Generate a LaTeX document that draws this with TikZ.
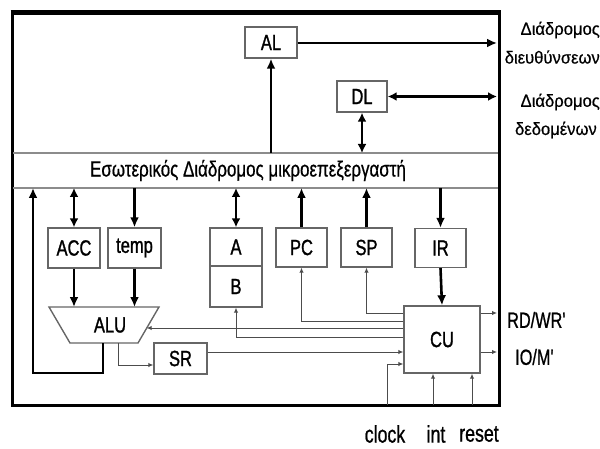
\documentclass[tikz,border=0pt]{standalone}
\usepackage{fontspec}
\setmainfont{Liberation Sans}
\newfontfamily\narrowfont{Liberation Sans}[FakeStretch=0.75,FakeBold=1.2]
\newfontfamily\busfont{Liberation Sans}[FakeStretch=0.77,FakeBold=0.6]
\newfontfamily\labelfont{Liberation Sans}[FakeStretch=0.74,FakeBold=0.8]
\newfontfamily\greekfont{Liberation Sans}[FakeStretch=0.95,FakeBold=0.5]
\usetikzlibrary{arrows.meta,calc}
\begin{document}
\begin{tikzpicture}[x=1pt,y=-1pt,
  reg/.style={draw=black!60,line width=1.4pt,minimum width=51pt,minimum height=39pt,inner sep=0pt,font=\narrowfont\fontsize{22}{22}\selectfont},
  thickln/.style={line width=2.6pt},
  bigarr/.style={thickln,-{Latex[length=10pt,width=9pt]}},
  dblarr/.style={thickln,{Latex[length=9pt,width=9pt]}-{Latex[length=9pt,width=9pt]}},
  thinarr/.style={draw=black!70,line width=1pt,-{Latex[length=5pt,width=4.5pt]}},
  lbl/.style={font=\greekfont\fontsize{17.5}{17.5}\selectfont,inner sep=0pt},
  sig/.style={font=\labelfont\fontsize{22}{22}\selectfont,inner sep=0pt}]
\useasboundingbox (0,0) rectangle (600,449);
% frame
\draw[line width=3pt] (12,405) -- (12,12) -- (499,12) -- (499,405) -- cycle;
\draw[line width=5pt] (10.5,13) -- (500.5,13);
% bus band
\draw[draw=black!45,line width=1.5pt] (13,153) -- (498,153);
\draw[draw=black!45,line width=1.5pt] (13,188) -- (498,188);
\node[font=\busfont\fontsize{22}{22}\selectfont,inner sep=0pt] (bus) at (248,170.5) {Εσωτερικός Διάδρομος μικροεπεξεργαστή};
% registers
\node[reg,minimum width=52pt,minimum height=31pt] (AL) at (271,42.5) {AL};
\node[reg,minimum width=50pt,minimum height=31pt] (DL) at (362,96.5) {DL};
\node[reg,minimum width=52pt,minimum height=40pt] (ACC) at (74,248) {ACC};
\node[reg,minimum width=53pt,minimum height=40pt] (temp) at (134.5,248) {temp};
\node[reg,minimum width=52pt,minimum height=38pt] (A) at (236,247) {A};
\node[reg,minimum width=52pt,minimum height=41pt] (B) at (236,286.5) {B};
\node[reg] (PC) at (301.5,247.5) {PC};
\node[reg] (SP) at (366.5,247.5) {SP};
\node[reg] (IR) at (440.5,248) {IR};
\node[reg,minimum width=76pt,minimum height=67pt] (CU) at (442,339.5) {CU};
\node[reg,minimum width=53pt,minimum height=31pt] (SR) at (180.5,358.5) {SR};
% ALU
\coordinate (aluTL) at (49,307);
\coordinate (aluTR) at (159,307);
\coordinate (aluBR) at (138,343);
\coordinate (aluBL) at (70,343);
\draw[draw=black!60,line width=1.4pt] (aluTL) -- (aluTR) -- (aluBR) -- (aluBL) -- cycle;
\node[font=\narrowfont\fontsize{22}{22}\selectfont,inner sep=0pt] (ALU) at (110,325) {ALU};
% bus coordinates
\coordinate (bAL) at (271,153);
\coordinate (bDL) at (362,153);
\coordinate (bFB) at (33,188);
\coordinate (bACC) at (74,188);
\coordinate (btemp) at (134.5,188);
\coordinate (bA) at (236,188);
\coordinate (bPC) at (301.5,188);
\coordinate (bSP) at (366.5,188);
\coordinate (bIR) at (440.5,188);
\coordinate (addr) at (497,43);
\coordinate (data) at (497,96.5);
% upper connectors
\draw[bigarr] (bAL) -- (AL.south);
\draw[bigarr] (AL.east |- addr) -- (addr);
\draw[dblarr] (DL.east) -- (data);
\draw[dblarr] (DL.south) -- (bDL);
% lower bus connectors
\draw[dblarr] (bACC) -- (ACC.north);
\draw[bigarr] (btemp) -- (temp.north);
\draw[dblarr] (bA) -- (A.north);
\draw[bigarr] (PC.north) -- (bPC);
\draw[bigarr] (SP.north) -- (bSP);
\draw[bigarr] (bIR) -- (IR.north);
\draw[bigarr] (IR.south) -- (CU.north);
\draw[bigarr] (ACC.south) -- (ACC.south |- aluTL);
\draw[bigarr] (temp.south) -- (temp.south |- aluTL);
% feedback
\coordinate (fbA) at (103,343);
\coordinate (fbB) at (103,373);
\coordinate (fbC) at (33,373);
\draw[line width=2.8pt,-{Latex[length=10pt,width=9pt]}] (fbA) -- (fbB) -- (fbC) -- (bFB);
% ALU -> SR
\coordinate (aluOut) at (118,343);
\draw[thinarr] (aluOut) |- (SR.west |- 0,365);
% CU control lines
\draw[thinarr] (CU.west |- 0,313) -| (SP.south);
\draw[thinarr] (CU.west |- 0,321) -| (PC.south);
\coordinate (aluIn) at (146.7,328);
\draw[thinarr] (CU.west |- 0,328) -- (aluIn);
\draw[thinarr] (CU.west |- 0,337) -| (B.south);
\draw[thinarr] (SR.east |- 0,352) -- (CU.west |- 0,352);
% external signals
\coordinate (clk) at (387,405);
\coordinate (intc) at (433,405);
\coordinate (rst) at (472,405);
\draw[thinarr] (clk) |- (CU.west |- 0,364);
\draw[thinarr] (intc) -- (CU.south -| intc);
\draw[thinarr] (rst) -- (CU.south -| rst);
\coordinate (rdwr) at (497,313);
\coordinate (iom) at (497,352);
\draw[thinarr] (CU.east |- rdwr) -- (rdwr);
\draw[thinarr] (CU.east |- iom) -- (iom);
% labels
\node[lbl,anchor=east] (l1) at (600,30) {Διάδρομος};
\node[lbl,anchor=east] (l2) at (600,57) {διευθύνσεων};
\node[lbl,anchor=east] (l3) at (600,102) {Διάδρομος};
\node[lbl,anchor=east] (l4) at (597,130) {δεδομένων};
\node[sig,anchor=west] (rd) at (507,320) {RD/WR'};
\node[sig,anchor=west] (io) at (515,357) {IO/M'};
\node[sig,font=\labelfont\fontsize{24}{24}\selectfont] (clock) at (385,434) {clock};
\node[sig,font=\labelfont\fontsize{24}{24}\selectfont] (int) at (436,434) {int};
\node[sig,font=\labelfont\fontsize{24}{24}\selectfont] (reset) at (479,434) {reset};
\end{tikzpicture}
\end{document}
